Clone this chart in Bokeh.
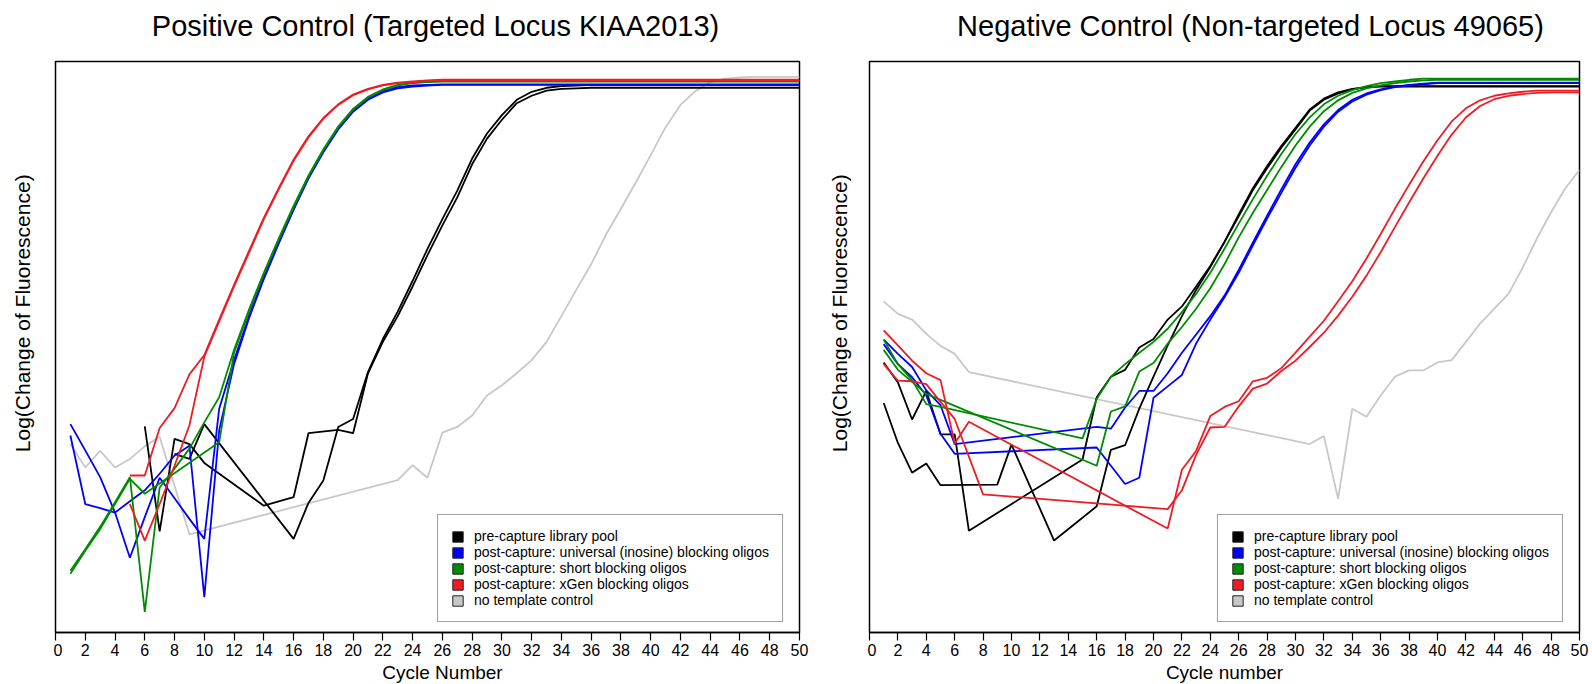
import math
from bokeh.plotting import figure
from bokeh.models import Range1d, FixedTicker, Legend, LegendItem
from bokeh.layouts import row, column
from bokeh.core.properties import value
from bokeh.embed import file_html
from bokeh.resources import INLINE

# qPCR amplification curves, log scale in arbitrary units (0-100 of plotted range).
# Cycles where a replicate has no usable reading are None; the line joins across them.
cycles = list(range(1, 51))
N = None

# ---------- Positive control (targeted locus KIAA2013) ----------
pos_pre_a = [N, N, N, N, N, 36.1, 17.7, 33.9, 33.0, 29.7,
             N, N, N, 22.2, N, 23.7, 34.9, N, 35.5, 34.9,
             45.4, 50.9, 55.4, 60.6, 66.1, 71.3, 76.2, 82.0, 86.5, 89.8,
             92.7, 94.0, 94.9, 95.2, 95.3, 95.4, 95.4, 95.4, 95.4, 95.4,
             95.4, 95.4, 95.4, 95.4, 95.4, 95.4, 95.4, 95.4, 95.4, 95.4]
pos_pre_b = [N, N, N, N, N, N, N, 31.3, 30.4, 36.5,
             N, N, N, N, N, 16.4, 22.7, 26.6, 36.0, 37.4,
             45.6, 51.4, 56.2, 61.6, 67.2, 72.4, 77.4, 83.0, 87.4, 90.6,
             93.3, 94.7, 95.4, 95.7, 95.8, 95.9, 95.9, 95.9, 95.9, 95.9,
             95.9, 95.9, 95.9, 95.9, 95.9, 95.9, 95.9, 95.9, 95.9, 95.9]
pos_univ_a = [36.5, 31.9, 27.2, 21.0, 13.1, 20.2, 27.1, 23.5, 19.9, 16.4,
              39.2, 47.7, 55.4, 62.2, 68.4, 74.2, 79.7, 84.3, 88.3, 91.4,
              93.5, 94.8, 95.5, 95.8, 95.9, 96.0, 96.0, 96.0, 96.0, 96.0,
              96.0, 96.0, 96.0, 96.0, 96.0, 96.0, 96.0, 96.0, 96.0, 96.0,
              96.0, 96.0, 96.0, 96.0, 96.0, 96.0, 96.0, 96.0, 96.0, 96.0]
pos_univ_b = [34.5, 22.5, 21.8, 21.0, 23.0, 24.9, 27.8, 31.0, 32.7, 6.2,
              35.4, 47.0, 55.0, 61.9, 68.1, 74.0, 79.5, 84.1, 88.1, 91.2,
              93.3, 94.6, 95.3, 95.6, 95.8, 95.9, 95.9, 95.9, 95.9, 95.9,
              95.9, 95.9, 95.9, 95.9, 95.9, 95.9, 95.9, 95.9, 95.9, 95.9,
              95.9, 95.9, 95.9, 95.9, 95.9, 95.9, 95.9, 95.9, 95.9, 95.9]
pos_short_a = [10.3, 14.3, 18.1, 22.5, 26.9, 24.3, N, N, N, N,
               33.3, 49.0, 56.2, 62.8, 68.8, 74.5, 79.9, 84.5, 88.5, 91.6,
               93.7, 95.0, 95.8, 96.2, 96.4, 96.5, 96.5, 96.5, 96.5, 96.5,
               96.5, 96.5, 96.5, 96.5, 96.5, 96.5, 96.5, 96.5, 96.5, 96.5,
               96.5, 96.5, 96.5, 96.5, 96.5, 96.5, 96.5, 96.5, 96.5, 96.5]
pos_short_b = [10.8, 14.6, 18.5, 22.8, 27.2, 3.6, 25.4, 28.7, 32.2, 36.8,
               41.2, 49.5, 56.5, 63.0, 69.0, 74.7, 80.0, 84.6, 88.6, 91.7,
               93.8, 95.1, 95.9, 96.3, 96.5, 96.6, 96.6, 96.6, 96.6, 96.6,
               96.6, 96.6, 96.6, 96.6, 96.6, 96.6, 96.6, 96.6, 96.6, 96.6,
               96.6, 96.6, 96.6, 96.6, 96.6, 96.6, 96.6, 96.6, 96.6, 96.6]
pos_xgen_a = [N, N, N, N, 27.5, 27.5, 35.8, 39.3, 45.2, 48.6,
              54.8, 60.9, 66.8, 72.6, 77.8, 82.8, 86.9, 90.1, 92.5, 94.2,
              95.2, 95.9, 96.3, 96.5, 96.7, 96.8, 96.8, 96.8, 96.8, 96.8,
              96.8, 96.8, 96.8, 96.8, 96.8, 96.8, 96.8, 96.8, 96.8, 96.8,
              96.8, 96.8, 96.8, 96.8, 96.8, 96.8, 96.8, 96.8, 96.8, 96.8]
pos_xgen_b = [N, N, N, N, 22.5, 16.1, 22.5, 29.2, 36.3, 48.3,
              54.5, 60.6, 66.5, 72.4, 77.6, 82.6, 86.7, 90.0, 92.4, 94.1,
              95.1, 95.8, 96.2, 96.4, 96.6, 96.7, 96.7, 96.7, 96.7, 96.7,
              96.7, 96.7, 96.7, 96.7, 96.7, 96.7, 96.7, 96.7, 96.7, 96.7,
              96.7, 96.7, 96.7, 96.7, 96.7, 96.7, 96.7, 96.7, 96.7, 96.7]
pos_ntc = [33.0, 28.9, 31.8, 28.9, 30.4, 32.6, 34.3, 25.7, 17.2, N,
           N, N, N, N, N, N, N, N, N, N,
           N, N, 26.7, 29.3, 27.1, 35.0, 36.0, 38.0, 41.5, 43.3,
           45.4, 47.7, 50.9, 55.4, 60.0, 64.5, 69.7, 74.2, 78.8, 83.6,
           88.5, 92.4, 94.8, 96.4, 97.0, 97.2, 97.3, 97.3, 97.3, 97.3]

# ---------- Negative control (non-targeted locus 49065) ----------
neg_pre_a = [40.2, 33.2, 28.0, 29.6, 25.8, N, N, N, 25.9, 32.9,
             N, N, 16.1, N, N, 22.1, 32.0, 32.8, 39.2, 44.8,
             50.3, 55.4, 60.0, 64.0, 68.4, 73.2, 77.8, 81.7, 85.2, 88.4,
             91.6, 93.5, 94.6, 95.2, 95.5, 95.7, 95.7, 95.7, 95.7, 95.7,
             95.7, 95.7, 95.7, 95.7, 95.7, 95.7, 95.7, 95.7, 95.7, 95.7]
neg_pre_b = [47.3, 43.8, 37.3, 42.3, 34.7, 34.7, 17.8, N, N, N,
             N, N, N, N, 30.3, 41.2, 44.8, 46.0, 49.9, 51.4,
             54.8, 57.1, 60.6, 64.2, 68.4, 72.9, 77.5, 81.3, 84.9, 88.1,
             91.4, 93.3, 94.4, 95.1, 95.5, 95.6, 95.6, 95.6, 95.6, 95.6,
             95.6, 95.6, 95.6, 95.6, 95.6, 95.6, 95.6, 95.6, 95.6, 95.6]
neg_univ_a = [51.3, 48.8, 46.5, 42.4, 39.8, 33.0, N, N, N, N,
              N, N, N, N, N, 36.0, 35.7, 39.4, 42.3, 42.3,
              45.4, 49.0, 52.2, 55.4, 59.0, 63.5, 68.3, 73.0, 77.6, 82.0,
              85.8, 89.0, 91.5, 93.3, 94.4, 95.1, 95.6, 95.9, 96.1, 96.3,
              96.3, 96.3, 96.3, 96.3, 96.3, 96.3, 96.3, 96.3, 96.3, 96.3]
neg_univ_b = [50.5, 47.0, 44.7, 41.5, 34.8, 31.3, N, N, N, N,
              N, N, N, N, N, 32.4, 29.2, 26.0, 27.1, 41.1,
              43.1, 45.1, 50.6, 54.8, 58.7, 63.0, 67.8, 72.5, 77.0, 81.4,
              85.3, 88.6, 91.2, 93.0, 94.2, 95.0, 95.5, 95.8, 96.0, 96.2,
              96.2, 96.2, 96.2, 96.2, 96.2, 96.2, 96.2, 96.2, 96.2, 96.2]
neg_short_a = [51.3, 47.0, 44.2, 40.0, 39.5, N, N, N, N, N,
               N, N, N, N, 34.0, 40.9, 44.8, 47.0, 49.0, 50.9,
               53.2, 56.1, 59.3, 63.0, 67.2, 71.6, 75.9, 80.0, 83.8, 87.3,
               90.2, 92.5, 94.0, 95.0, 95.7, 96.2, 96.5, 96.8, 97.0, 97.0,
               97.0, 97.0, 97.0, 97.0, 97.0, 97.0, 97.0, 97.0, 97.0, 97.0]
neg_short_b = [49.5, 46.0, 43.9, 41.8, N, N, N, N, N, N,
               N, N, N, N, N, 29.2, 38.7, 39.6, 45.7, 47.2,
               50.6, 53.5, 56.7, 60.3, 64.5, 69.2, 73.5, 77.5, 81.5, 85.3,
               88.6, 91.3, 93.2, 94.5, 95.3, 95.8, 96.2, 96.5, 96.7, 96.8,
               96.8, 96.8, 96.8, 96.8, 96.8, 96.8, 96.8, 96.8, 96.8, 96.8]
neg_xgen_a = [52.9, 50.3, 47.6, 45.4, 44.2, 33.1, 36.9, N, N, N,
              N, N, N, N, N, N, N, N, N, N,
              18.2, 28.5, 31.8, 37.9, 39.5, 40.5, 44.0, 44.6, 46.3, 49.0,
              51.8, 54.6, 58.0, 61.5, 65.5, 69.8, 74.2, 78.4, 82.5, 86.2,
              89.5, 91.8, 93.2, 94.0, 94.4, 94.7, 94.9, 94.9, 94.9, 94.9]
neg_xgen_b = [47.0, 44.1, 44.0, 43.5, 40.4, 37.4, N, 24.2, N, N,
              N, N, N, N, N, N, N, N, N, N,
              21.6, 24.9, 31.1, 35.9, 36.0, 39.6, 42.7, 43.6, 45.8, 47.6,
              50.0, 52.5, 55.5, 58.8, 62.5, 66.6, 71.0, 75.3, 79.5, 83.5,
              87.2, 90.2, 92.2, 93.4, 94.0, 94.3, 94.5, 94.6, 94.6, 94.6]
neg_ntc = [58.0, 55.8, 54.8, 52.3, 50.2, 48.8, 45.6, N, N, N,
           N, N, N, N, N, N, N, N, N, N,
           N, N, N, N, N, N, N, N, N, N,
           33.0, 34.4, 23.4, 39.2, 37.8, 41.5, 44.8, 45.9, 45.9, 47.3,
           47.7, 50.9, 54.1, 56.7, 59.3, 63.9, 69.0, 73.6, 77.8, 81.0]

titles = ["Positive Control (Targeted Locus KIAA2013)",
          "Negative Control (Non-targeted Locus 49065)"]
x_labels = ["Cycle Number", "Cycle number"]
y_label = "Log(Change of Fluorescence)"
legend_labels = ["pre-capture library pool",
                 "post-capture: universal (inosine) blocking oligos",
                 "post-capture: short blocking oligos",
                 "post-capture: xGen blocking oligos",
                 "no template control"]
colors = ["#000000", "#0000FF", "#008C00", "#EE1C24", "#C8C8C8"]
x_ticks = list(range(0, 51, 2))

FONT = "Liberation Sans"
W, H = 1592, 684
TOP, BOTTOM = 59, 24          # heights of the title strip and x-label strip
PANEL_H = H - TOP - BOTTOM     # 601: 2 + 571 frame + 28 for ticks and tick labels
YLAB_Y = 324                   # vertical centre of the y-axis titles, px from page top


def strip(width, height):
    """Blank canvas in pixel units used to hold the surrounding text."""
    s = figure(width=width, height=height, output_backend="svg", toolbar_location=None,
               x_range=Range1d(0, width), y_range=Range1d(0, height),
               x_axis_location=None, y_axis_location=None, min_border=0)
    s.outline_line_color = None
    s.xgrid.visible = False
    s.ygrid.visible = False
    s.background_fill_color = "white"
    s.border_fill_color = "white"
    return s


def put_text(s, xs, ys, texts, size, angle=0.0):
    s.text(x=xs, y=ys, text=texts, angle=angle, text_align="center",
           text_baseline="middle", text_font=value(FONT), text_font_size=size,
           text_color="black")


def panel(groups, width, right_border, legend_x):
    p = figure(width=width, height=PANEL_H, output_backend="svg", toolbar_location=None,
               x_range=Range1d(0, 50), y_range=Range1d(0, 100), y_axis_location=None,
               min_border_left=2, min_border_right=right_border,
               min_border_top=2, min_border_bottom=PANEL_H - 2 - 571)
    p.background_fill_color = "white"
    p.border_fill_color = "white"
    p.outline_line_color = "black"
    p.outline_line_width = 1.5
    p.xgrid.visible = False
    p.ygrid.visible = False

    xa = p.xaxis[0]
    xa.ticker = FixedTicker(ticks=x_ticks)
    xa.major_tick_out = 8
    xa.major_tick_in = 0
    xa.minor_tick_line_color = None
    xa.axis_line_width = 1.5
    xa.major_tick_line_width = 1.2
    xa.major_label_text_font = FONT
    xa.major_label_text_font_size = "16px"
    xa.major_label_text_color = "black"
    xa.major_label_standoff = 3

    # grey first so that the amplified samples sit on top of it
    for gi in [4, 0, 1, 2, 3]:
        for vals in groups[gi]:
            xs = [c for c, v in zip(cycles, vals) if v is not None]
            ys = [v for v in vals if v is not None]
            p.line(xs, ys, line_color=colors[gi], line_width=1.8)

    items = []
    for lab, col in zip(legend_labels, colors):
        r = p.quad(left=[math.nan], right=[math.nan], top=[math.nan], bottom=[math.nan],
                   fill_color=col, line_color="#222222", line_width=1)
        items.append(LegendItem(label=lab, renderers=[r]))
    leg = Legend(items=items, location=(legend_x, 10), margin=0, padding=13,
                 spacing=0, label_height=16, glyph_height=13, glyph_width=13,
                 label_standoff=10, label_text_font=FONT, label_text_font_size="14px",
                 label_text_color="black",
                 border_line_color="#444444", border_line_width=1.3,
                 background_fill_color="white", background_fill_alpha=1.0)
    p.add_layout(leg, "center")
    return p


pos_groups = [[pos_pre_a, pos_pre_b], [pos_univ_a, pos_univ_b],
              [pos_short_a, pos_short_b], [pos_xgen_a, pos_xgen_b], [pos_ntc]]
neg_groups = [[neg_pre_a, neg_pre_b], [neg_univ_a, neg_univ_b],
              [neg_short_a, neg_short_b], [neg_xgen_a, neg_xgen_b], [neg_ntc]]

# panel widths: left strip 53 | plot 757 | strip 57 | plot 725
left_plot = panel(pos_groups, 757, 11, 382)
right_plot = panel(neg_groups, 725, 13, 348)

title_strip = strip(W, TOP)
put_text(title_strip, [435, 1250], [TOP - 25.4, TOP - 25.4], titles, "29px")

ylab_left = strip(53, PANEL_H)
put_text(ylab_left, [22.3], [PANEL_H - (YLAB_Y - TOP)], [y_label], "21px", angle=math.pi / 2)
ylab_right = strip(57, PANEL_H)
put_text(ylab_right, [28.6], [PANEL_H - (YLAB_Y - TOP)], [y_label], "21px", angle=math.pi / 2)

xlab_strip = strip(W, BOTTOM)
put_text(xlab_strip, [442, 1224], [BOTTOM - 12, BOTTOM - 12], x_labels, "19px")

layout = column(title_strip,
                row(ylab_left, left_plot, ylab_right, right_plot, spacing=0),
                xlab_strip, spacing=0)
open("out.html", "w").write(file_html(layout, INLINE))
